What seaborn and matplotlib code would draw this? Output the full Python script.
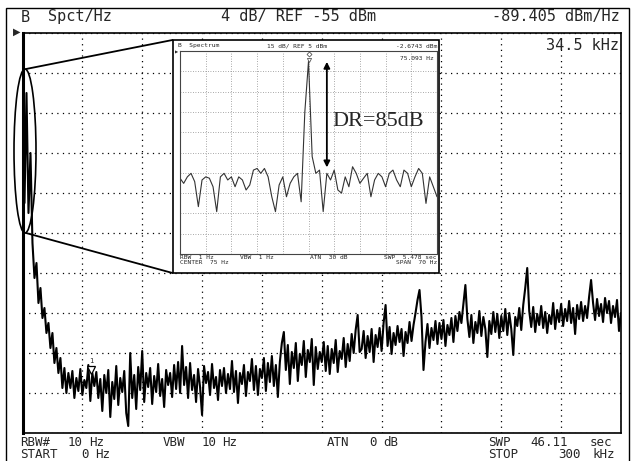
import matplotlib
matplotlib.use('Agg')
import matplotlib.pyplot as plt
import matplotlib.patches as mpatches
import numpy as np
import pandas as pd
import seaborn as sns

sns.set_style('white')
plt.rcParams['font.family'] = ['DejaVu Sans Mono', 'DejaVu Sans']

# main sweep: 0..300 kHz, 1 kHz steps, spectral density in dBm/Hz
main_freq = np.arange(0, 301, 1)
main_db = [
    -45, -72, -61, -73, -67, -76, -79.5, -78, -82, -80.5,
    -83.5, -82.5, -85, -84, -86.5, -85, -88, -86.5, -89, -87.5,
    -90.5, -88.5, -91, -89, -90.5, -88.8, -91.5, -89.5, -90.8, -88.6,
    -91.2, -89.7, -90.5, -88.2, -91.8, -89.0, -90.3, -88.9, -91.5, -89.6,
    -92.8, -89.2, -91.0, -88.7, -93.4, -89.9, -91.6, -88.3, -92.2, -89.5,
    -90.9, -88.8, -93.0, -94.3, -87.0, -91.5, -89.2, -92.6, -88.4, -90.7,
    -86.8, -91.9, -89.0, -90.4, -88.5, -92.1, -89.3, -90.9, -88.1, -91.3,
    -89.6, -92.4, -88.7, -90.2, -89.0, -91.4, -88.2, -90.6, -87.9, -91.0,
    -86.3, -90.2, -88.4, -91.5, -88.0, -90.7, -89.2, -91.9, -88.6, -90.4,
    -93.2, -88.3, -90.0, -88.9, -91.2, -88.1, -90.5, -89.4, -91.7, -88.7,
    -90.3, -88.5, -91.0, -89.1, -90.6, -87.8, -90.9, -88.8, -92.0, -89.0,
    -90.1, -88.2, -91.3, -88.9, -89.8, -87.6, -90.7, -88.3, -91.2, -88.6,
    -89.5, -87.5, -90.8, -88.0, -89.9, -87.3, -90.3, -88.2, -91.4, -87.9,
    -86.0, -84.9, -88.7, -86.2, -90.1, -86.9, -88.5, -86.0, -89.8, -87.1,
    -88.2, -85.8, -89.4, -86.7, -87.9, -85.6, -90.2, -86.4, -88.6, -86.9,
    -87.9, -85.9, -88.8, -86.3, -89.1, -86.6, -88.0, -85.7, -88.9, -86.8,
    -87.6, -85.5, -88.4, -86.1, -87.8, -85.1, -87.0, -84.7, -83.2, -86.9,
    -86.6, -84.8, -87.5, -85.3, -86.9, -84.6, -87.9, -85.2, -86.4, -84.5,
    -86.8, -84.0, -82.2, -86.3, -84.4, -87.1, -85.0, -86.2, -84.3, -85.9,
    -84.6, -87.3, -84.9, -86.0, -83.9, -85.8, -84.2, -83.0, -81.7, -80.7,
    -83.4, -88.7, -85.9, -84.1, -86.5, -84.5, -85.7, -83.8, -86.1, -84.0,
    -85.6, -83.7, -86.3, -84.2, -85.2, -83.5, -85.9, -83.3, -84.8, -82.9,
    -84.0, -82.1, -80.2, -83.6, -85.4, -83.2, -86.0, -83.9, -85.0, -82.8,
    -85.3, -83.4, -84.6, -87.4, -83.8, -85.1, -82.9, -84.9, -83.1, -85.5,
    -83.3, -84.8, -82.6, -85.2, -83.0, -84.6, -87.2, -83.4, -84.3, -82.5,
    -84.7, -82.2, -80.5, -78.5, -82.8, -84.4, -82.4, -84.9, -83.1, -84.2,
    -82.3, -84.5, -82.9, -85.0, -83.2, -84.1, -82.0, -84.6, -82.7, -83.9,
    -82.1, -84.3, -82.6, -83.8, -81.8, -84.0, -82.5, -85.1, -82.2, -83.6,
    -81.9, -83.8, -82.3, -83.5, -81.4, -79.7, -82.0, -83.7, -81.6, -83.3,
    -82.1, -83.9, -81.5, -83.0, -81.8, -84.0, -82.3, -83.4, -81.7, -84.8,
    -83.0,
]

# zoomed sweep: 40..110 Hz, 1 Hz steps, dBm
zoom_freq = np.arange(40, 111, 1)
zoom_db = [
    -89, -92.8, -88, -85.4, -91.5, -110, -90.3, -88, -89, -95.3,
    -113.7, -88, -85.4, -90.3, -88, -95.3, -88, -90.3, -97.7, -94,
    -83, -81.8, -85.4, -81.8, -88, -102.7, -113.7, -94, -88, -102.7,
    -92.8, -88, -85.4, -106.4, -40, -2.67, -73, -85.4, -83, -113.7,
    -85.4, -90.3, -83, -97.7, -100, -88, -95.3, -80.5, -85.4, -92.8,
    -89, -85.4, -102.7, -90.3, -85.4, -88, -95.3, -85.4, -83, -90.3,
    -95.3, -83, -85.4, -95.3, -88, -81.8, -85.4, -107.6, -88, -95.3,
    -102.7,
]

marker_khz = 34.5
marker_db = -89.405
zoom_marker_hz = 75.093
zoom_marker_db = -2.6743

W, H = 632, 461
fig = plt.figure(figsize=(W / 100, H / 100), dpi=100)


def fx(x):
    return x / W


def fy(y):
    return 1 - y / H


def box(l, t, r, b):
    return [fx(l), fy(b), fx(r) - fx(l), fy(t) - fy(b)]


# outer screen frame
fig.patches.append(mpatches.Rectangle((fx(6), fy(470)), fx(629) - fx(6), fy(8) - fy(470),
                                      transform=fig.transFigure, fill=False,
                                      edgecolor='black', lw=1.0, zorder=0))

# ---- main display
ax = fig.add_axes(box(22.5, 33, 621, 433))
ax.set_zorder(1)
df = pd.DataFrame({'f': main_freq, 'db': main_db})
sns.lineplot(data=df, x='f', y='db', ax=ax, color='black', lw=1.5,
             estimator=None, sort=False)
ax.set_xlim(0, 300)
ax.set_ylim(-95, -55)
ax.set_xticks(np.arange(0, 301, 30))
ax.set_yticks(np.arange(-95, -54, 4))
ax.set_xticklabels([])
ax.set_yticklabels([])
ax.tick_params(length=0)
ax.set_xlabel('')
ax.set_ylabel('')
ax.grid(True, color='black', lw=0.9, linestyle=(0, (1, 3.5)))
for s in ax.spines.values():
    s.set_color('black')
    s.set_linewidth(1.2)
ax.spines['left'].set_linewidth(2.2)

ax.plot([marker_khz], [marker_db + 0.7], marker='v', ms=6, mfc='white',
        mec='black', mew=0.9, ls='none', zorder=5)
ax.text(marker_khz, marker_db + 1.6, '1', fontsize=5, ha='center', va='center',
        zorder=5)

# header annotations
big = 11
fig.text(fx(21), fy(17), 'B', fontsize=big, va='center', ha='left')
fig.text(fx(48), fy(17), 'Spct/Hz', fontsize=big, va='center', ha='left')
fig.text(fx(221), fy(17), '4 dB/ REF -55 dBm', fontsize=big, va='center', ha='left')
fig.text(fx(620), fy(17), '%.3f dBm/Hz' % marker_db, fontsize=big, va='center', ha='right')
fig.text(fx(619), fy(46), '%.1f kHz' % marker_khz, fontsize=big, va='center', ha='right')
fig.text(fx(17), fy(32), '\u25b6', fontsize=7, va='center', ha='center',
         family=['DejaVu Sans'])

# footer annotations, word by word to keep the wide instrument spacing
foot = 9
row1, row2 = 442, 454.5
footer_words = [
    ('RBW#', 20, row1), ('10', 68, row1), ('Hz', 89, row1),
    ('VBW', 163, row1), ('10', 202, row1), ('Hz', 222, row1),
    ('ATN', 327, row1), ('0', 369, row1), ('dB', 383, row1),
    ('SWP', 488, row1), ('46.11', 530, row1), ('sec', 590, row1),
    ('START', 20, row2), ('0', 81, row2), ('Hz', 95, row2),
    ('STOP', 488, row2), ('300', 558, row2), ('kHz', 593, row2),
]
for word, x, y in footer_words:
    fig.text(fx(x), fy(y), word, fontsize=foot, va='center', ha='left')

# ellipse around the carrier and connector lines to the zoom window
fig.patches.append(mpatches.Ellipse((fx(25), fy(151)), fx(22), 164 / H,
                                    transform=fig.transFigure, fill=False,
                                    edgecolor='black', lw=1.2, zorder=3))
fig.lines.append(plt.Line2D([fx(26), fx(172.5)], [fy(69), fy(40)],
                            transform=fig.transFigure, color='black', lw=1.3, zorder=3))
fig.lines.append(plt.Line2D([fx(26), fx(172.5)], [fy(233), fy(273)],
                            transform=fig.transFigure, color='black', lw=1.3, zorder=3))

# ---- zoom window
fig.patches.append(mpatches.Rectangle((fx(172.5), fy(273)), fx(439) - fx(172.5),
                                      fy(40) - fy(273), transform=fig.transFigure,
                                      facecolor='white', edgecolor='black', lw=1.2,
                                      zorder=4))
axi = fig.add_axes(box(180, 51, 437, 254))
axi.set_zorder(5)
dz = pd.DataFrame({'f': zoom_freq, 'db': zoom_db})
sns.lineplot(data=dz, x='f', y='db', ax=axi, color='#333333', lw=0.8,
             estimator=None, sort=False)
axi.set_xlim(40, 110)
axi.set_ylim(-145, 5)
axi.set_xticks(np.arange(40, 111, 7))
axi.set_yticks(np.arange(-145, 6, 15))
axi.set_xticklabels([])
axi.set_yticklabels([])
axi.tick_params(length=0)
axi.set_xlabel('')
axi.set_ylabel('')
axi.grid(True, color='#8c8c8c', lw=0.6, linestyle=(0, (1, 2)))
for s in axi.spines.values():
    s.set_color('#444444')
    s.set_linewidth(0.8)

axi.plot([zoom_marker_hz], [3], marker='D', ms=2.5, mfc='white', mec='#555555',
         mew=0.6, ls='none')
axi.plot([zoom_marker_hz], [-1.5], marker='v', ms=3, mfc='white', mec='#555555',
         mew=0.6, ls='none')
axi.annotate('', xy=(80, -3), xytext=(80, -81),
             arrowprops=dict(arrowstyle='<|-|>', color='black', lw=1.3,
                             mutation_scale=9, shrinkA=0, shrinkB=0))
axi.text(81.4, -47.3, 'DR=85dB', fontsize=16, family=['Liberation Serif'],
         ha='left', va='center')

small = 4.5
fig.text(fx(178), fy(46), 'B  Spectrum', fontsize=small, va='center', ha='left', zorder=6)
fig.text(fx(267), fy(46), '15 dB/ REF 5 dBm', fontsize=small, va='center', ha='left', zorder=6)
fig.text(fx(437), fy(46), '%.4f dBm' % zoom_marker_db, fontsize=small, va='center',
         ha='right', zorder=6)
fig.text(fx(434), fy(59), '%.3f Hz' % zoom_marker_hz, fontsize=small, va='center',
         ha='right', zorder=6)
fig.text(fx(180), fy(257.5), 'RBW  1 Hz', fontsize=small, va='center', ha='left', zorder=6)
fig.text(fx(180), fy(262.5), 'CENTER  75 Hz', fontsize=small, va='center', ha='left', zorder=6)
fig.text(fx(240), fy(257.5), 'VBW  1 Hz', fontsize=small, va='center', ha='left', zorder=6)
fig.text(fx(310), fy(257.5), 'ATN  30 dB', fontsize=small, va='center', ha='left', zorder=6)
fig.text(fx(437), fy(257.5), 'SWP  5.478 sec', fontsize=small, va='center', ha='right', zorder=6)
fig.text(fx(437), fy(262.5), 'SPAN  70 Hz', fontsize=small, va='center', ha='right', zorder=6)
fig.text(fx(177), fy(52), '\u25b6', fontsize=3, va='center', ha='center',
         family=['DejaVu Sans'], zorder=6)

fig.savefig('out.png', dpi=100)
